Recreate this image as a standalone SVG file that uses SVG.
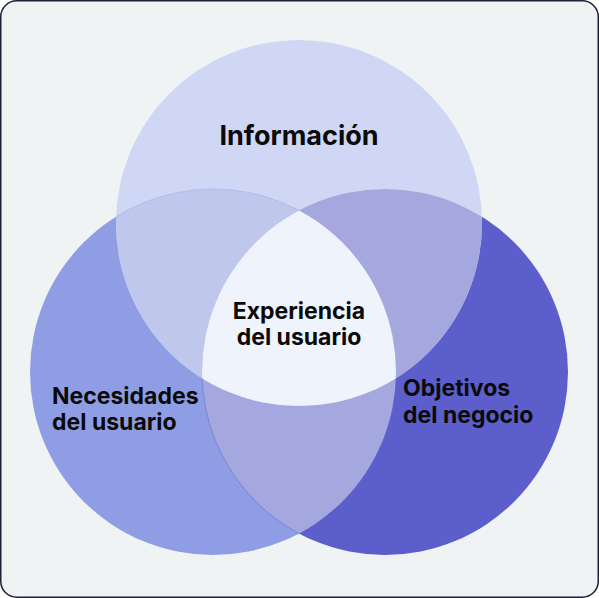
<svg xmlns="http://www.w3.org/2000/svg" width="599" height="598" viewBox="0 0 599 598">
  <style>
    .lbl { font-family: Inter, "Liberation Sans", sans-serif; font-weight: 700; fill: #0a0a0a; }
    .big { font-size: 27px; }
    .mid { font-size: 23px; }
  </style>
  <defs>
    <clipPath id="cTop"><circle cx="299" cy="223" r="183"/></clipPath>
    <clipPath id="cLeft"><circle cx="213" cy="372" r="183"/></clipPath>
    <clipPath id="cRight"><circle cx="385" cy="372" r="183"/></clipPath>
  </defs>
  <rect x="0.75" y="0.75" width="597.5" height="596.5" rx="16" ry="16" fill="#eff3f4" stroke="#20203a" stroke-width="1.5"/>

  <g id="necesidades">
    <circle cx="213" cy="372" r="183" fill="#8f9ee4"/>
  </g>
  <g id="objetivos">
    <circle cx="385" cy="372" r="183" fill="#5c5ecb"/>
  </g>
  <g id="overlap-left-right" clip-path="url(#cLeft)">
    <circle cx="385" cy="372" r="183" fill="#a5a8de"/>
    <circle cx="385" cy="372" r="183" fill="none" stroke="#7d86e0" stroke-width="1"/>
  </g>
  <g id="informacion">
    <circle cx="299" cy="223" r="183" fill="#cfd7f4"/>
  </g>
  <g id="overlap-top-left" clip-path="url(#cTop)">
    <circle cx="213" cy="372" r="183" fill="#c0c7ec"/>
    <circle cx="213" cy="372" r="183" fill="none" stroke="#b3bbee" stroke-width="1"/>
  </g>
  <g id="overlap-top-right" clip-path="url(#cTop)">
    <circle cx="385" cy="372" r="183" fill="#a5a8de"/>
  </g>
  <g id="experiencia" clip-path="url(#cTop)">
    <g clip-path="url(#cLeft)">
      <circle cx="385" cy="372" r="183" fill="#eff3fc"/>
    </g>
  </g>

  <g id="labels">
    <text class="lbl big" x="299" y="145" text-anchor="middle">Información</text>
    <text class="lbl mid" x="299" y="319" text-anchor="middle">Experiencia</text>
    <text class="lbl mid" x="299" y="345" text-anchor="middle">del usuario</text>
    <text class="lbl mid" x="52" y="404">Necesidades</text>
    <text class="lbl mid" x="52" y="430">del usuario</text>
    <text class="lbl mid" x="403" y="396">Objetivos</text>
    <text class="lbl mid" x="403" y="423">del negocio</text>
  </g>
  <g id="connectors"/>
</svg>
